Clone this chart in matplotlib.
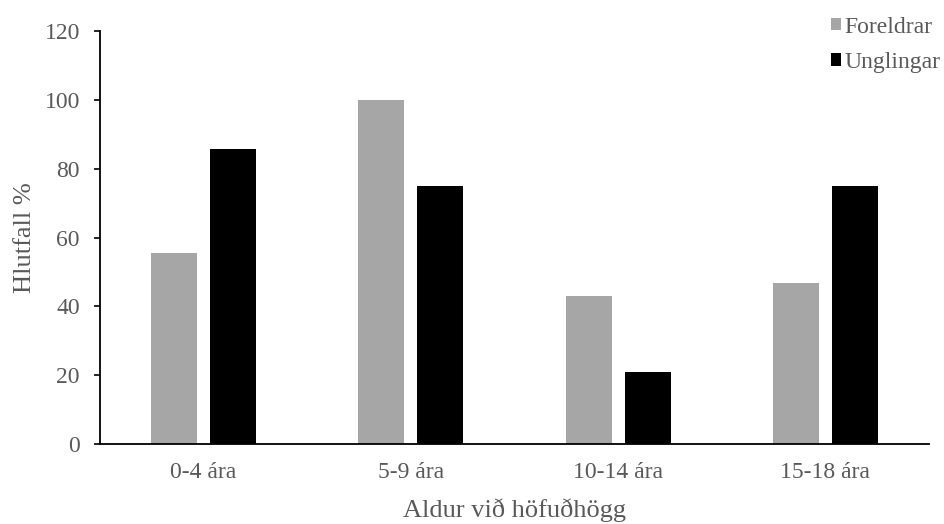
import numpy as np
import matplotlib.pyplot as plt

# Hlutfall eftir aldri við höfuðhögg
flokkar = ['0-4 ára', '5-9 ára', '10-14 ára', '15-18 ára']
foreldrar = [55.6, 100, 42.9, 46.7]
unglingar = [85.7, 75, 20.8, 75]

plt.rcParams['font.family'] = 'Liberation Serif'
texti = '#595959'

fig = plt.figure(figsize=(9.45, 5.24), dpi=100)
ax = fig.add_axes([0.1058, 0.1527, 0.8772, 0.7881])

x = np.arange(len(flokkar))
breidd = 0.222
bil = 0.063
ax.bar(x - (breidd + bil) / 2, foreldrar, breidd, color='#a6a6a6', label='Foreldrar')
ax.bar(x + (breidd + bil) / 2, unglingar, breidd, color='black', label='Unglingar')

ax.set_xlim(-0.5, len(flokkar) - 0.5)
ax.set_ylim(0, 120)
ax.set_yticks(range(0, 121, 20))
ax.set_xticks(x)
ax.set_xticklabels(flokkar)
ax.tick_params(axis='y', direction='out', length=4.5, width=1.2, colors='black',
               labelcolor=texti, labelsize=17, pad=10)
ax.tick_params(axis='x', length=0, labelcolor=texti, labelsize=17, pad=13)

for s in ['top', 'right']:
    ax.spines[s].set_visible(False)
for s in ['left', 'bottom']:
    ax.spines[s].set_linewidth(1.3)

ax.set_ylabel('Hlutfall %', fontsize=19, color=texti, labelpad=6)
ax.set_xlabel('Aldur við höfuðhögg', fontsize=19, color=texti, labelpad=11)

leg = ax.legend(loc='upper left', bbox_to_anchor=(0.87, 1.058), frameon=False,
                fontsize=17, handlelength=0.45, handleheight=0.45,
                handletextpad=0.12, labelspacing=0.6, borderaxespad=0)
for t in leg.get_texts():
    t.set_color(texti)

fig.savefig('out.png', dpi=100)
